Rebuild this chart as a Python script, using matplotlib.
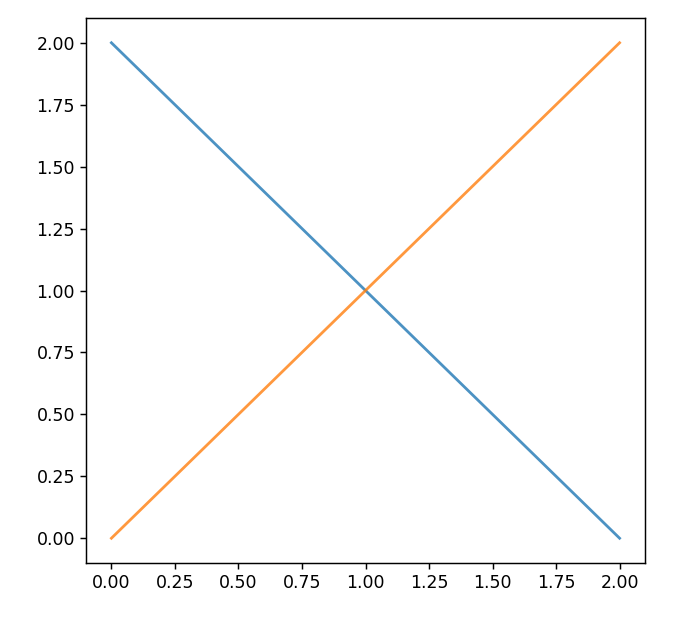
import matplotlib
matplotlib.use("Agg")
import matplotlib.pyplot as plt

# two crossing lines
x_vals = [0, 1, 2]
falling = [2, 1, 0]
rising = [0, 1, 2]

plt.rcParams['font.size'] = 12.5
plt.rcParams['axes.linewidth'] = 1.05
plt.rcParams['xtick.major.size'] = 4.5
plt.rcParams['ytick.major.size'] = 4.5
plt.rcParams['xtick.major.width'] = 1.05
plt.rcParams['ytick.major.width'] = 1.05

fig = plt.figure(figsize=(6.76, 6.18), dpi=100)
ax = fig.add_axes([86 / 676, 1 - 563 / 618, (645 - 86) / 676, (563 - 18) / 618])

ax.plot(x_vals, falling, color='#1f77b4', linewidth=2.0, alpha=0.8)
ax.plot(x_vals, rising, color='#ff7f0e', linewidth=2.0, alpha=0.8)

ax.set_xticks([0, 0.25, 0.5, 0.75, 1.0, 1.25, 1.5, 1.75, 2.0])
ax.set_yticks([0, 0.25, 0.5, 0.75, 1.0, 1.25, 1.5, 1.75, 2.0])
ax.xaxis.set_major_formatter(matplotlib.ticker.FormatStrFormatter('%.2f'))
ax.yaxis.set_major_formatter(matplotlib.ticker.FormatStrFormatter('%.2f'))
ax.set_xlim(-0.1, 2.1)
ax.set_ylim(-0.1, 2.1)

fig.savefig('out.png', dpi=100)
